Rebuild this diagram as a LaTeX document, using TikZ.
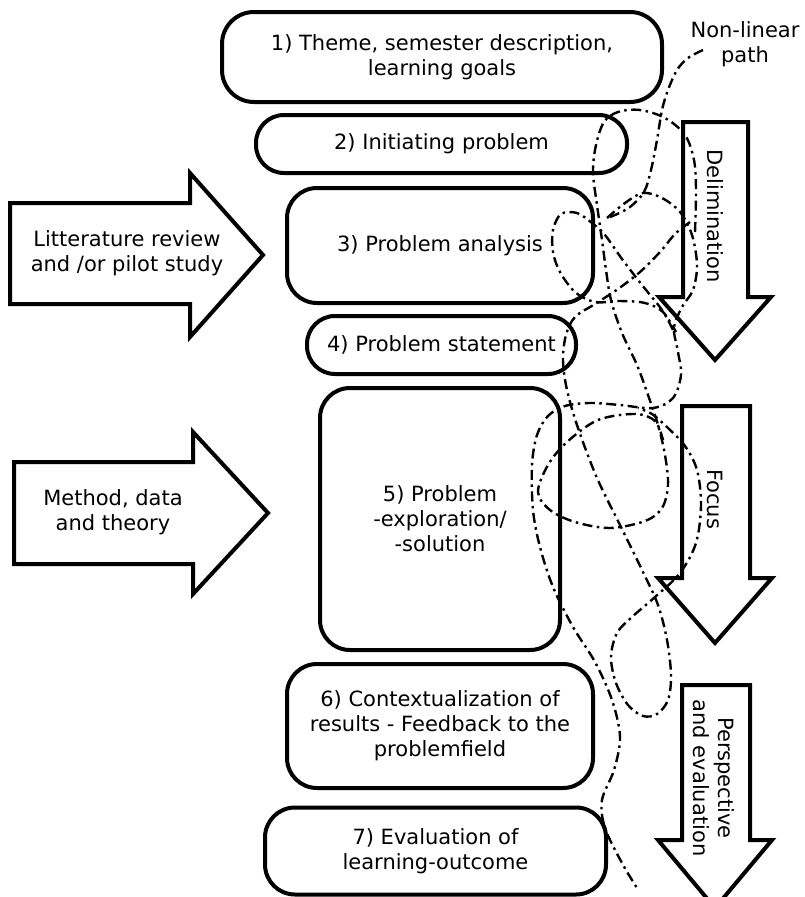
\documentclass[tikz,border=0pt]{standalone}
\usepackage{fontspec}
\setmainfont{DejaVu Sans}
\begin{document}
\begin{tikzpicture}[x=1pt,y=-1pt,
  every node/.style={font=\fontsize{21}{25}\selectfont, inner sep=0pt},
  box/.style={draw, line width=4pt, rounded corners=#1, align=center},
  box/.default=30pt,
  bigarrow/.style={draw, line width=4pt, line join=miter},
  txt/.style={align=center},
  nlpath/.style={line width=2.4pt, line cap=butt,
    dash pattern=on 10pt off 4.5pt on 2.5pt off 4.5pt}]
\useasboundingbox (0,0) rectangle (804,897);

% process steps
\node[box=32pt, minimum width=440pt, minimum height=90pt] (s1) at (442,57)
  {1) Theme, semester description,\\learning goals};
\node[box=28pt, minimum width=371pt, minimum height=58pt] (s2) at (441.5,144)
  {2) Initiating problem};
\node[box, minimum width=306pt, minimum height=115pt] (s3) at (440,245.5)
  {3) Problem analysis};
\node[box=28pt, minimum width=269pt, minimum height=58pt] (s4) at (441.5,345)
  {4) Problem statement};
\node[box, minimum width=240pt, minimum height=262pt] (s5) at (440,519)
  {5) Problem\\-exploration/\\-solution};
\node[box, minimum width=306pt, minimum height=124pt] (s6) at (440,726)
  {6) Contextualization of\\results - Feedback to the\\problemfield};
\node[box, minimum width=341pt, minimum height=87pt] (s7) at (435.5,851)
  {7) Evaluation of\\learning-outcome};

% input arrows on the left
\draw[bigarrow] (10,203) -- (190,203) -- (190,173) -- (263,255) -- (190,337)
  -- (190,304) -- (10,304) -- cycle;
\node[txt] (in1) at (127,253) {Litterature review\\and /or pilot study};
\draw[bigarrow] (14,462) -- (193,462) -- (193,432) -- (268,513) -- (193,594)
  -- (193,564) -- (14,564) -- cycle;
\node[txt] (in2) at (113,512) {Method, data\\and theory};

% phase arrows on the right
\draw[bigarrow] (683,122) -- (748,122) -- (748,297) -- (771,297) -- (715,360)
  -- (659,297) -- (683,297) -- cycle;
\node[txt, rotate=-90] (ph1) at (715,216) {Delimination};
\draw[bigarrow] (682,406) -- (750,406) -- (750,578) -- (772,578) -- (715,643)
  -- (658,578) -- (682,578) -- cycle;
\node[txt, rotate=-90] (ph2) at (715,499) {Focus};
\draw[bigarrow] (682,685) -- (750,685) -- (750,840) -- (772,840) -- (715,908)
  -- (658,840) -- (682,840) -- cycle;
\node[txt, rotate=-90] (ph3) at (714,778) {Perspective\\and evaluation};

\node[txt] (nl) at (745,44) {Non-linear\\path};

% the non-linear path
\draw[nlpath] plot[smooth, tension=0.55] coordinates {
  (703,50) (688,58) (677,70) (668,90) (662,110) (657,140) (651,170)
  (644,192) (630,207) (615,215) (607,218)};
\draw[nlpath] plot[smooth, tension=0.55] coordinates {
  (607,218) (625,203) (643,193) (662,198) (680,212) (692,235) (697,265)
  (693,290) (682,307) (674,328) (678,352) (681,375) (673,398) (653,408)
  (620,405) (590,403) (565,406) (548,416) (537,435) (532,465) (533,510)
  (540,547) (553,587) (573,627) (595,662) (612,700) (620,737) (614,770)
  (602,800) (605,828) (622,863) (637,888)};
\draw[nlpath] plot[smooth, tension=0.55] coordinates {
  (695,232) (696,190) (694,160) (685,135) (665,118) (640,110) (618,112)
  (604,122) (596,145) (593,172) (597,205) (602,240) (606,270) (611,300)
  (622,333) (637,365) (648,395) (658,425) (665,455) (668,485) (662,508)
  (645,521) (610,528) (575,522) (550,510) (538,492) (548,465) (567,442)
  (598,420) (635,414) (655,421) (663,440)};
\draw[nlpath] plot[smooth, tension=0.55] coordinates {
  (690,222) (675,234) (660,252) (640,272) (618,289) (595,304) (575,317)
  (566,335) (563,360) (567,390) (578,428) (597,478) (620,525) (643,572)
  (658,605) (667,640) (671,675) (668,700) (657,714) (643,716) (628,705)
  (616,683) (611,657) (617,633) (632,617) (655,597) (680,573) (696,543)
  (701,505) (697,470) (685,446) (668,428) (652,414) (638,408)};
\draw[nlpath] plot[smooth, tension=0.55] coordinates {
  (673,330) (662,310) (642,285) (622,259) (605,235) (592,223) (577,213)
  (561,214) (553,230) (553,252) (560,272) (575,292) (595,302) (620,301)
  (645,303) (663,312) (676,332)};
\end{tikzpicture}
\end{document}
